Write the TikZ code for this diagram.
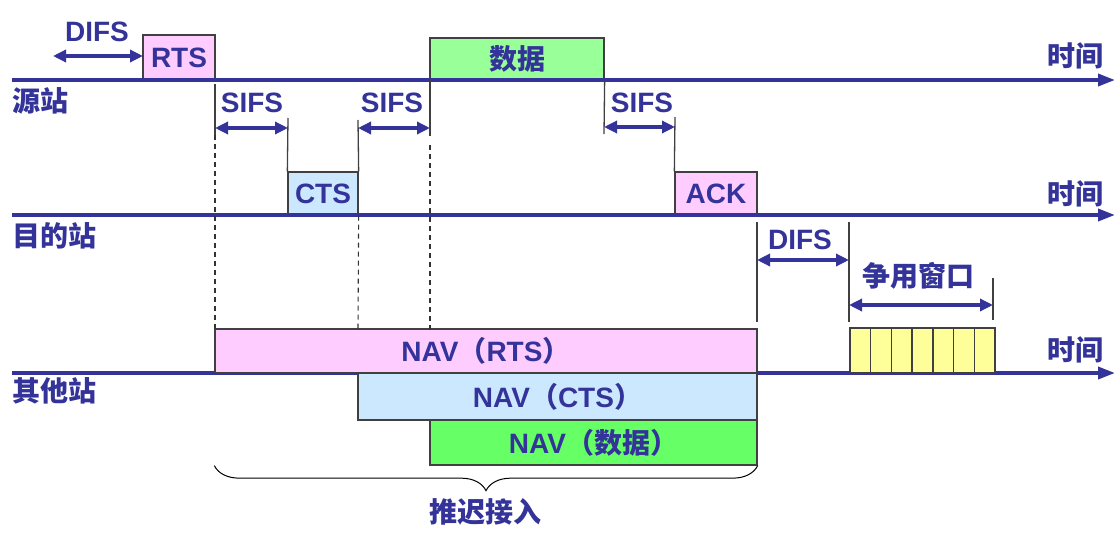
\documentclass[tikz,border=0pt]{standalone}
\usepackage{fontspec}
\setmainfont{Liberation Sans}
\newfontfamily\cjk{Noto Sans CJK SC}
\usetikzlibrary{arrows.meta,decorations.pathreplacing}
\definecolor{navy}{HTML}{333399}
\definecolor{rtspink}{HTML}{FFCCFF}
\definecolor{datagreen}{HTML}{99FF99}
\definecolor{ctsblue}{HTML}{CCE8FF}
\definecolor{navgreen}{HTML}{66FF66}
\definecolor{slotyellow}{HTML}{FFFF99}
\definecolor{edge}{HTML}{404040}
\tikzset{
  lbl/.style={text=navy, font=\fontsize{28}{30}\selectfont\bfseries, inner sep=0pt},
  frame/.style={lbl, draw=edge, line width=1.3pt},
  axis/.style={draw=navy, line width=3.5pt, -{Triangle[length=17pt,width=12pt]}},
  span/.style={draw=navy, line width=3.5pt, {Triangle[length=13pt,width=12pt]}-{Triangle[length=13pt,width=12pt]}},
  tick/.style={draw=edge, line width=1.3pt},
  guide/.style={draw=black!80, line width=1.1pt, dash pattern=on 5pt off 4pt},
}
\begin{document}
\begin{tikzpicture}[x=1pt,y=-1pt]
    \useasboundingbox (0,0) rectangle (1117,535);
    \coordinate (src0) at (12,80);  \coordinate (src1) at (1115,80);
    \coordinate (dst0) at (12,215); \coordinate (dst1) at (1115,215);
    \coordinate (oth0) at (12,373); \coordinate (oth1) at (1115,373);

    \node[frame, fill=rtspink, minimum width=72pt, minimum height=45pt] (rts) at (179,57.5) {RTS};
    \node[frame, fill=datagreen, minimum width=174pt, minimum height=42pt] (data) at (517,59) {\cjk 数据};
    \node[frame, fill=ctsblue, minimum width=70pt, minimum height=43pt] (cts) at (323,193.5) {CTS};
    \node[frame, fill=rtspink, minimum width=82pt, minimum height=43pt] (ack) at (716,193.5) {ACK};
    \draw[axis] (src0) -- (src1);
    \draw[axis] (dst0) -- (dst1);
    \draw[axis] (oth0) -- (oth1);
    \node[frame, fill=rtspink, minimum width=542pt, minimum height=44pt] (navrts) at (486,351) {NAV{\cjk （}RTS{\cjk ）}};
    \node[frame, fill=ctsblue, minimum width=399pt, minimum height=47pt] (navcts) at (557.5,396.5) {NAV{\cjk （}CTS{\cjk ）}};
    \node[frame, fill=navgreen, minimum width=327pt, minimum height=45pt] (navdata) at (593.5,442.5) {NAV{\cjk （数据）}};
    \foreach \i in {0,...,6}
        \node[frame, fill=slotyellow, minimum width=20.71pt, minimum height=45pt] (slot\i) at (860.36+20.71*\i,350.5) {};

    \node[lbl, anchor=west] (srcname) at (12,101) {\cjk 源站};
    \node[lbl, anchor=west] (dstname) at (12,236) {\cjk 目的站};
    \node[lbl, anchor=west] (othname) at (12,391) {\cjk 其他站};
    \node[lbl] (srctime) at (1075,56) {\cjk 时间};
    \node[lbl] (dsttime) at (1075,194) {\cjk 时间};
    \node[lbl] (othtime) at (1075,350) {\cjk 时间};

    \draw[tick] (215,84) -- (215,135);
    \draw[guide] (215,135) -- (215,330);
    \draw[tick] (288,118) -- (cts.north west);
    \draw[tick] (358,120) -- (cts.north east);
    \draw[guide] (cts.south east) -- (358,330);
    \draw[tick] (430,80) -- (430,136);
    \draw[guide] (430,145) -- (430,330);
    \draw[tick] (data.south east) -- (604,134);
    \draw[tick] (675,117) -- (ack.north west);
    \draw[tick] (757,222) -- (757,322);
    \draw[tick] (849,222) -- (849,322);
    \draw[tick] (993,278) -- (993,320);

    \coordinate (difs0) at (53,56);   \coordinate (difs1) at (143,56);
    \coordinate (sifsa0) at (215,128); \coordinate (sifsa1) at (288,128);
    \coordinate (sifsb0) at (358,128); \coordinate (sifsb1) at (430,128);
    \coordinate (sifsc0) at (604,127); \coordinate (sifsc1) at (675,127);
    \coordinate (difsb0) at (757,260); \coordinate (difsb1) at (849,260);
    \coordinate (win0) at (849,305);  \coordinate (win1) at (993,305);
    \draw[span] (difs0) -- (difs1);
    \draw[span] (sifsa0) -- (sifsa1);
    \draw[span] (sifsb0) -- (sifsb1);
    \draw[span] (sifsc0) -- (sifsc1);
    \draw[span] (difsb0) -- (difsb1);
    \draw[span] (win0) -- (win1);
    \node[lbl] (difslbl) at (97,32) {DIFS};
    \node[lbl] (sifsalbl) at (252,103) {SIFS};
    \node[lbl] (sifsblbl) at (392,103) {SIFS};
    \node[lbl] (sifsclbl) at (642,103) {SIFS};
    \node[lbl] (difsblbl) at (800,240) {DIFS};
    \node[lbl] (winlbl) at (918,276) {\cjk 争用窗口};

    \draw[decorate, decoration={brace, mirror, amplitude=25pt}, line width=1pt] (navrts.west |- navdata.south) -- (navdata.south east);
    \node[lbl] (deferlbl) at (485,512) {\cjk 推迟接入};
\end{tikzpicture}
\end{document}
